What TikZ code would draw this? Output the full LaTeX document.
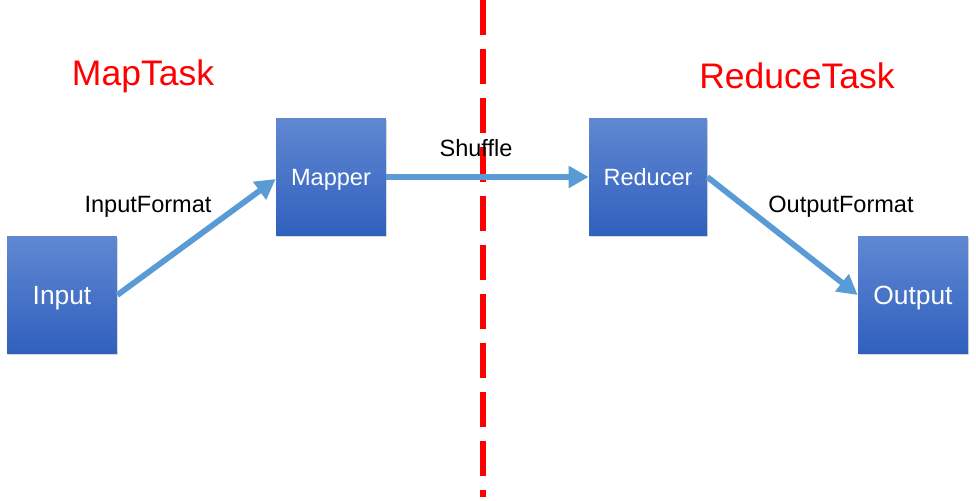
\documentclass[tikz,border=0pt]{standalone}
\usepackage{fontspec}
\setmainfont{Liberation Sans}
\usetikzlibrary{arrows.meta,shadows}

\definecolor{flowblue}{RGB}{91,155,213}
\definecolor{boxtop}{RGB}{96,136,210}
\definecolor{boxbot}{RGB}{48,96,190}

\tikzset{
  task/.style={rectangle, minimum width=2.2cm, minimum height=2.34cm,
    text depth=0pt, top color=boxtop, bottom color=boxbot, text=white,
    drop shadow={shadow xshift=0.5pt, shadow yshift=-1pt, opacity=0.3}},
  flow/.style={draw=flowblue, line width=3.3pt,
    -{Triangle[length=0.4cm,width=0.42cm]}},
  phase/.style={text=red, font=\fontsize{20.2}{24}\selectfont}
}

\begin{document}
\begin{tikzpicture}[x=0.02cm, y=-0.02cm]
\useasboundingbox (0,0) rectangle (976,500);

% boxes
\node[task, font=\fontsize{15}{18}\selectfont] (input) at (62,295) {Input};
\node[task, font=\fontsize{13.4}{16}\selectfont] (mapper) at (331,177) {Mapper};
\node[task, minimum width=2.36cm, font=\fontsize{13.4}{16}\selectfont] (reducer) at (648,177) {Reducer};
\node[task, font=\fontsize{15}{18}\selectfont] (output) at (913,295) {Output};

% split between the two tasks
\coordinate (cuttop) at (483,0);
\coordinate (cutbot) at (483,497);
\draw[red, line width=2.9pt, dash pattern=on 0.7cm off 0.28cm] (cuttop)--(cutbot);

% data flow
\draw[flow] (input.east)--(mapper.west |- 0,179);
\draw[flow] (mapper.east)--(reducer.west);
\draw[flow] (reducer.east)--(output.west);

% labels
\node[phase] (maptask) at (143,76) {MapTask};
\node[phase] (reducetask) at (797,76) {ReduceTask};
\node[font=\fontsize{13.4}{16}\selectfont] (inputformat) at (148,207) {InputFormat};
\node[font=\fontsize{13.4}{16}\selectfont] (shuffle) at (476,148) {Shuffle};
\node[font=\fontsize{13.4}{16}\selectfont] (outputformat) at (841,207) {OutputFormat};
\end{tikzpicture}
\end{document}
